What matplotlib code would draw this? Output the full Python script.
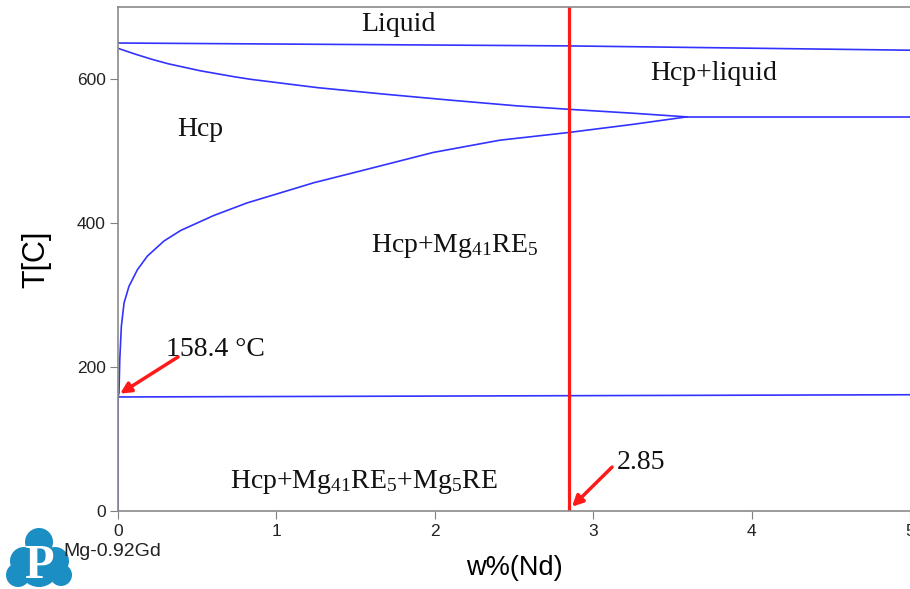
import matplotlib
matplotlib.use("Agg")
import matplotlib.pyplot as plt
from matplotlib.patches import Circle

plt.rcParams['font.family'] = ['Liberation Sans', 'DejaVu Sans']
plt.rcParams['mathtext.fontset'] = 'custom'
plt.rcParams['mathtext.rm'] = 'Liberation Serif'
plt.rcParams['mathtext.default'] = 'regular'

# phase boundaries (w% Nd, T in C)
liq_x = [0, 2.84, 5]
liq_t = [650, 646, 640]

sol_x = [0, 0.105, 0.21, 0.316, 0.52, 0.737, 0.84, 1.26, 1.68, 2.10, 2.52,
         2.84, 3.25, 3.59]
sol_t = [642.6, 634.8, 627.6, 621.2, 611.4, 603, 599.5, 588, 579, 570.6, 562.7,
         558, 552.5, 547.4]

solvus_x = [0, 0, 0.006, 0.011, 0.021, 0.038, 0.069, 0.122, 0.185, 0.29, 0.396,
            0.606, 0.816, 1.027, 1.237, 1.49, 1.99, 2.41, 2.84, 3.25, 3.59]
solvus_t = [0, 158.4, 164, 210, 256.5, 289, 312, 335, 354, 375, 389.7,
            410.6, 428, 442, 456, 470, 498, 515, 525.6, 537, 547.4]

peri_x = [3.59, 5]
peri_t = [547.4, 547.4]

eut_x = [0, 5]
eut_t = [158.4, 161.5]

alloy_x = 2.85
eut_temp = 158.4

xticks = [0, 1, 2, 3, 4, 5]
yticks = [0, 200, 400, 600]

fig = plt.figure(figsize=(9.1, 5.89), dpi=100)
ax = fig.add_axes([0.1297, 0.1324, 0.8703, 0.8557])

blue = '#3333ff'
for xs, ts in [(liq_x, liq_t), (sol_x, sol_t), (solvus_x, solvus_t),
               (peri_x, peri_t), (eut_x, eut_t)]:
    ax.plot(xs, ts, color=blue, lw=1.2)

ax.axvline(alloy_x, color='#ff1a1a', lw=2.3)

ax.set_xlim(0, 5)
ax.set_ylim(0, 700)
ax.set_xticks(xticks)
ax.set_yticks(yticks)
ax.tick_params(direction='out', length=6, color='#808080', labelsize=12.5,
               labelcolor='#222222', pad=3)
for s in ['left', 'top', 'bottom']:
    ax.spines[s].set_color('#8a8a8a')
    ax.spines[s].set_linewidth(1.2)
ax.spines['right'].set_visible(False)

ax.set_xlabel('w%(Nd)', fontsize=19.5, labelpad=12)
ax.set_ylabel('T[C]', fontsize=22, labelpad=18)

serif = dict(family='Liberation Serif', fontsize=20, color='#111111')
ax.text(1.768, 676, 'Liquid', ha='center', va='center', **serif)
ax.text(3.763, 607, 'Hcp+liquid', ha='center', va='center', **serif)
ax.text(0.518, 530, 'Hcp', ha='center', va='center', **serif)
ax.text(2.128, 360, r'Hcp+Mg$_{41}$RE$_5$', ha='center', va='baseline', **serif)
ax.text(1.553, 32, r'Hcp+Mg$_{41}$RE$_5$+Mg$_5$RE', ha='center', va='baseline', **serif)

arrow = dict(arrowstyle='-|>', color='#ff1a1a', lw=2.5, mutation_scale=16,
             shrinkA=0, shrinkB=0)
ax.annotate('', xy=(0.013, 163), xytext=(0.379, 214), arrowprops=arrow)
ax.text(0.303, 224, '158.4 °C', ha='left', va='center', **serif)
ax.annotate('', xy=(2.866, 6), xytext=(3.119, 61), arrowprops=arrow)
ax.text(3.15, 68, '2.85', ha='left', va='center', **serif)

# logo in the lower left corner
lax = fig.add_axes([0, 0, 80 / 910, 70 / 589])
lax.set_xlim(0, 80)
lax.set_ylim(0, 70)
lax.axis('off')
logo_blue = '#1b8ec4'
for cx, cy, r in [(39, 47, 14), (24, 28, 14), (55, 28, 14), (18, 14, 12),
                  (61, 14, 11), (39, 22, 20)]:
    lax.add_patch(Circle((cx, cy), r, color=logo_blue, lw=0))
lax.text(39, 11, 'P', ha='center', va='baseline', color='white',
         family='Liberation Serif', fontweight='bold', fontsize=35)
fig.text(63 / 910, 1 - 551 / 589, 'Mg-0.92Gd', ha='left', va='center',
         fontsize=14, color='#222222')

fig.savefig('out.png', dpi=100)
